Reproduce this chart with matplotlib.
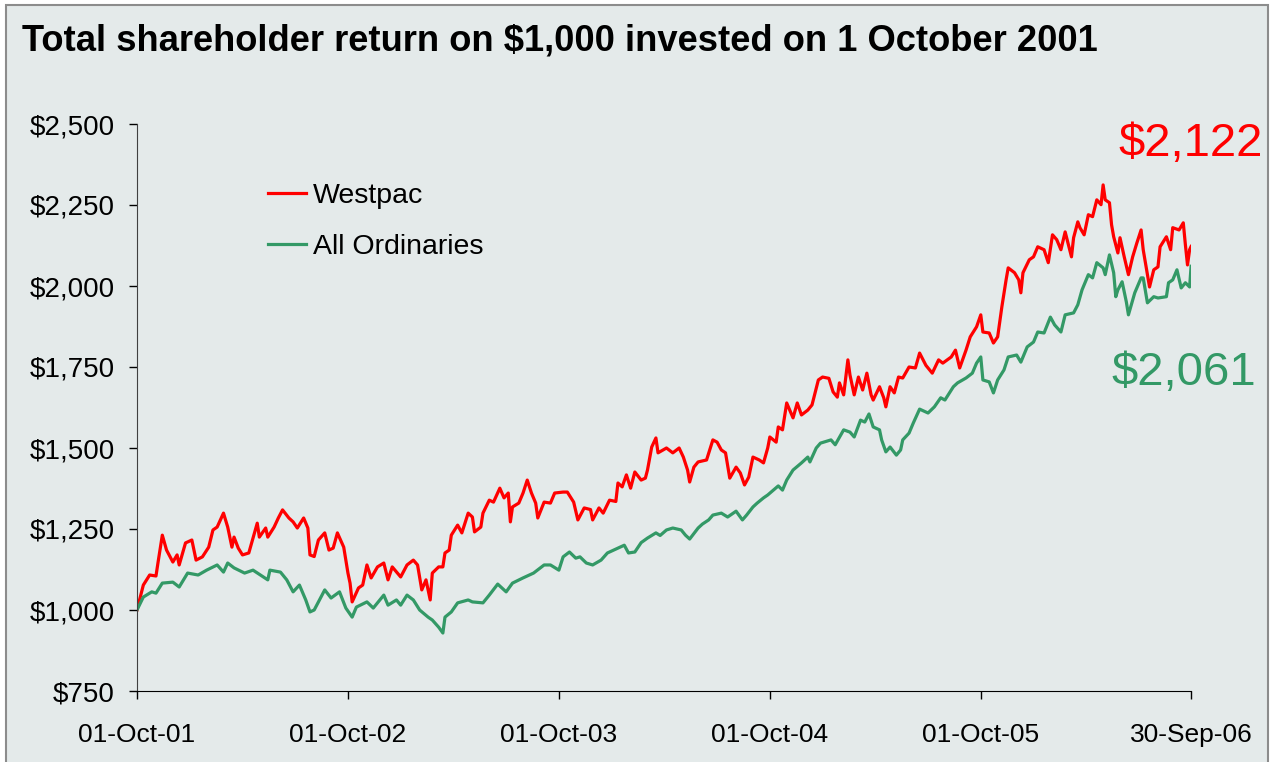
import numpy as np
import pandas as pd
import matplotlib
matplotlib.use('Agg')
import matplotlib.pyplot as plt
from matplotlib.patches import Rectangle

# years since 1 Oct 2001, value of $1,000 invested
westpac_years = [0.00, 0.03, 0.06, 0.09, 0.10, 0.12, 0.14, 0.17, 0.19, 0.20, 0.23, 0.26, 0.28, 0.31, 0.34,
                 0.36, 0.38, 0.41, 0.43, 0.45, 0.46, 0.48, 0.50, 0.53, 0.57, 0.58, 0.61, 0.62, 0.65, 0.67,
                 0.69, 0.72, 0.74, 0.76, 0.79, 0.81, 0.82, 0.84, 0.86, 0.89, 0.91, 0.93, 0.95, 0.98, 1.00,
                 1.01, 1.02, 1.05, 1.07, 1.09, 1.11, 1.14, 1.17, 1.19, 1.21, 1.25, 1.28, 1.31, 1.33, 1.35,
                 1.37, 1.39, 1.40, 1.43, 1.45, 1.46, 1.48, 1.49, 1.52, 1.54, 1.57, 1.59, 1.60, 1.63, 1.64,
                 1.67, 1.69, 1.72, 1.74, 1.76, 1.77, 1.78, 1.81, 1.83, 1.85, 1.87, 1.89, 1.90, 1.93, 1.96,
                 1.98, 2.02, 2.04, 2.07, 2.09, 2.12, 2.15, 2.16, 2.19, 2.21, 2.24, 2.27, 2.28, 2.30, 2.32,
                 2.34, 2.36, 2.39, 2.41, 2.42, 2.44, 2.46, 2.47, 2.51, 2.54, 2.57, 2.59, 2.61, 2.62, 2.64,
                 2.66, 2.70, 2.73, 2.75, 2.77, 2.79, 2.81, 2.84, 2.86, 2.88, 2.90, 2.92, 2.95, 2.97, 2.99,
                 3.00, 3.03, 3.04, 3.06, 3.08, 3.11, 3.13, 3.15, 3.18, 3.20, 3.23, 3.25, 3.28, 3.30, 3.32,
                 3.33, 3.35, 3.37, 3.38, 3.40, 3.42, 3.44, 3.46, 3.48, 3.49, 3.52, 3.54, 3.55, 3.57, 3.59,
                 3.61, 3.63, 3.66, 3.69, 3.71, 3.74, 3.77, 3.80, 3.82, 3.86, 3.88, 3.90, 3.93, 3.95, 3.98,
                 4.00, 4.01, 4.04, 4.06, 4.08, 4.10, 4.12, 4.13, 4.16, 4.18, 4.19, 4.20, 4.23, 4.25, 4.27,
                 4.30, 4.32, 4.34, 4.36, 4.38, 4.40, 4.43, 4.44, 4.46, 4.47, 4.49, 4.51, 4.53, 4.55, 4.57,
                 4.58, 4.59, 4.61, 4.62, 4.63, 4.65, 4.66, 4.68, 4.70, 4.72, 4.74, 4.76, 4.77, 4.80, 4.82,
                 4.84, 4.85, 4.88, 4.90, 4.91, 4.94, 4.96, 4.97, 4.98, 4.99, 4.997]
westpac_values = [1000, 1077, 1108, 1105, 1148, 1231, 1185, 1148, 1170, 1139, 1207, 1216, 1154, 1164, 1194,
                  1247, 1256, 1299, 1256, 1194, 1225, 1191, 1170, 1176, 1268, 1225, 1253, 1225, 1256, 1284,
                  1309, 1284, 1272, 1253, 1284, 1253, 1170, 1165, 1216, 1238, 1185, 1191, 1238, 1194, 1114,
                  1083, 1025, 1068, 1077, 1139, 1099, 1133, 1145, 1093, 1133, 1102, 1139, 1154, 1139, 1062,
                  1093, 1031, 1114, 1133, 1133, 1176, 1185, 1231, 1262, 1238, 1299, 1287, 1241, 1256, 1299,
                  1339, 1333, 1376, 1346, 1361, 1272, 1318, 1330, 1361, 1401, 1361, 1330, 1284, 1333, 1330,
                  1361, 1364, 1364, 1333, 1278, 1315, 1310, 1278, 1315, 1299, 1339, 1335, 1392, 1380, 1417,
                  1376, 1426, 1401, 1407, 1432, 1503, 1531, 1485, 1500, 1485, 1500, 1472, 1432, 1395, 1441,
                  1457, 1463, 1525, 1518, 1494, 1485, 1407, 1441, 1423, 1386, 1410, 1472, 1463, 1454, 1500,
                  1534, 1518, 1565, 1556, 1639, 1593, 1639, 1602, 1617, 1633, 1710, 1719, 1715, 1673, 1657,
                  1701, 1664, 1772, 1725, 1664, 1719, 1679, 1731, 1664, 1648, 1689, 1655, 1627, 1689, 1670,
                  1719, 1716, 1750, 1747, 1793, 1755, 1731, 1772, 1762, 1781, 1802, 1747, 1802, 1843, 1874,
                  1911, 1858, 1855, 1824, 1843, 1936, 2019, 2056, 2041, 2019, 1979, 2041, 2081, 2090, 2121,
                  2112, 2072, 2158, 2143, 2112, 2167, 2090, 2149, 2198, 2180, 2158, 2220, 2214, 2266, 2251,
                  2312, 2266, 2257, 2189, 2152, 2102, 2149, 2090, 2035, 2090, 2133, 2173, 2112, 1997, 2050,
                  2059, 2121, 2152, 2112, 2180, 2173, 2195, 2127, 2065, 2112, 2122]

allords_years = [0.00, 0.03, 0.07, 0.09, 0.12, 0.17, 0.20, 0.24, 0.29, 0.33, 0.38, 0.41, 0.43, 0.46, 0.51,
                 0.55, 0.62, 0.63, 0.68, 0.71, 0.74, 0.77, 0.80, 0.82, 0.84, 0.87, 0.89, 0.92, 0.96, 0.99,
                 1.02, 1.04, 1.09, 1.12, 1.17, 1.19, 1.23, 1.25, 1.28, 1.31, 1.34, 1.38, 1.40, 1.43, 1.45,
                 1.46, 1.49, 1.52, 1.57, 1.59, 1.64, 1.67, 1.71, 1.75, 1.78, 1.83, 1.88, 1.93, 1.96, 2.00,
                 2.02, 2.05, 2.08, 2.10, 2.13, 2.16, 2.20, 2.23, 2.26, 2.31, 2.33, 2.36, 2.39, 2.42, 2.46,
                 2.48, 2.51, 2.54, 2.58, 2.60, 2.62, 2.66, 2.68, 2.71, 2.73, 2.77, 2.80, 2.84, 2.87, 2.89,
                 2.92, 2.94, 2.97, 2.99, 3.04, 3.06, 3.08, 3.11, 3.15, 3.18, 3.19, 3.22, 3.24, 3.29, 3.31,
                 3.35, 3.38, 3.40, 3.43, 3.45, 3.47, 3.49, 3.52, 3.53, 3.55, 3.57, 3.60, 3.62, 3.63, 3.66,
                 3.68, 3.71, 3.75, 3.78, 3.81, 3.83, 3.87, 3.89, 3.93, 3.96, 3.98, 4.00, 4.01, 4.04, 4.06,
                 4.08, 4.11, 4.13, 4.17, 4.19, 4.22, 4.25, 4.27, 4.30, 4.33, 4.35, 4.38, 4.40, 4.44, 4.46,
                 4.48, 4.51, 4.53, 4.55, 4.58, 4.59, 4.61, 4.63, 4.64, 4.65, 4.67, 4.69, 4.70, 4.72, 4.73,
                 4.76, 4.77, 4.79, 4.82, 4.84, 4.88, 4.89, 4.91, 4.93, 4.95, 4.97, 4.99, 4.997]
allords_values = [1000, 1040, 1056, 1052, 1083, 1086, 1071, 1114, 1108, 1123, 1139, 1117, 1145, 1130, 1114,
                  1123, 1093, 1123, 1117, 1093, 1056, 1077, 1031, 994, 1000, 1037, 1062, 1037, 1056, 1006,
                  978, 1009, 1025, 1006, 1046, 1015, 1031, 1015, 1046, 1031, 1000, 978, 969, 947, 929,
                  978, 994, 1022, 1031, 1025, 1022, 1046, 1080, 1056, 1083, 1099, 1114, 1139, 1139, 1123,
                  1164, 1179, 1160, 1164, 1145, 1139, 1154, 1176, 1185, 1200, 1176, 1179, 1208, 1222, 1238,
                  1230, 1247, 1253, 1247, 1231, 1219, 1253, 1265, 1278, 1293, 1299, 1287, 1305, 1278, 1293,
                  1318, 1330, 1346, 1355, 1383, 1370, 1401, 1432, 1454, 1472, 1457, 1500, 1515, 1525, 1510,
                  1556, 1549, 1534, 1586, 1580, 1605, 1565, 1556, 1525, 1488, 1503, 1478, 1494, 1525, 1546,
                  1577, 1620, 1608, 1627, 1655, 1648, 1689, 1701, 1716, 1731, 1762, 1781, 1710, 1704, 1670,
                  1710, 1741, 1781, 1787, 1765, 1812, 1827, 1858, 1855, 1904, 1880, 1858, 1911, 1917, 1942,
                  1988, 2035, 2025, 2072, 2056, 2035, 2096, 2041, 1967, 1988, 2013, 1951, 1911, 1957, 1979,
                  2025, 2025, 1948, 1967, 1963, 1967, 2010, 2019, 2050, 1994, 2010, 1997, 2061]

tick_dates = ['2001-10-01', '2002-10-01', '2003-10-01', '2004-10-01', '2005-10-01', '2006-09-30']
y_ticks = [750, 1000, 1250, 1500, 1750, 2000, 2250, 2500]

start = pd.Timestamp('2001-10-01')
def to_dates(years):
	return start + pd.to_timedelta(np.array(years) * 365.25, unit='D')

plt.rcParams['font.family'] = ['Liberation Sans', 'DejaVu Sans']
RED = '#ff0000'
GREEN = '#339966'

fig = plt.figure(figsize=(12.72, 7.62), dpi=100, facecolor='white')
# grey panel with border, kept behind the axes
fig.patches.append(Rectangle((6/1272, -0.02), 1262/1272, 1.02 - 5/762, transform=fig.transFigure,
							 facecolor='#e4eaea', edgecolor='#8c8c8c', lw=1.5, zorder=-10))

ax = fig.add_axes([137/1272, 1 - 691/762, 1054/1272, 567/762])
ax.patch.set_visible(False)

ax.plot(to_dates(westpac_years), westpac_values, color=RED, lw=2.3, label='Westpac')
ax.plot(to_dates(allords_years), allords_values, color=GREEN, lw=2.3, label='All Ordinaries')

ticks = pd.to_datetime(tick_dates)
ax.set_xlim(ticks[0], ticks[-1])
ax.set_ylim(750, 2500)
ax.set_xticks(ticks)
ax.set_xticklabels([t.strftime('%d-%b-%y') for t in ticks])
ax.set_yticks(y_ticks)
ax.set_yticklabels(['${:,}'.format(v) for v in y_ticks])
ax.tick_params(axis='x', length=6, width=1, pad=17, labelsize=19)
ax.tick_params(axis='y', length=6, width=1, pad=10, labelsize=20)
for s in ['top', 'right']:
	ax.spines[s].set_visible(False)
ax.spines['left'].set_color('#404040')

ax.legend(loc='upper left', bbox_to_anchor=(0.124, 0.8965), frameon=False, fontsize=20.5,
		  handlelength=1.33, handletextpad=0.25, labelspacing=0.9, borderpad=0, borderaxespad=0)

# end values
ax.text(1.068, 0.965, '${:,}'.format(westpac_values[-1]), color=RED, fontsize=34,
		ha='right', va='center', transform=ax.transAxes, clip_on=False)
ax.text(1.062, 0.561, '${:,}'.format(allords_values[-1]), color=GREEN, fontsize=34,
		ha='right', va='center', transform=ax.transAxes, clip_on=False)

fig.text(22/1272, 1 - 50/762, 'Total shareholder return on $1,000 invested on 1 October 2001',
		 fontsize=26.2, fontweight='bold', va='baseline')

fig.savefig('out.png', dpi=100, facecolor=fig.get_facecolor())
